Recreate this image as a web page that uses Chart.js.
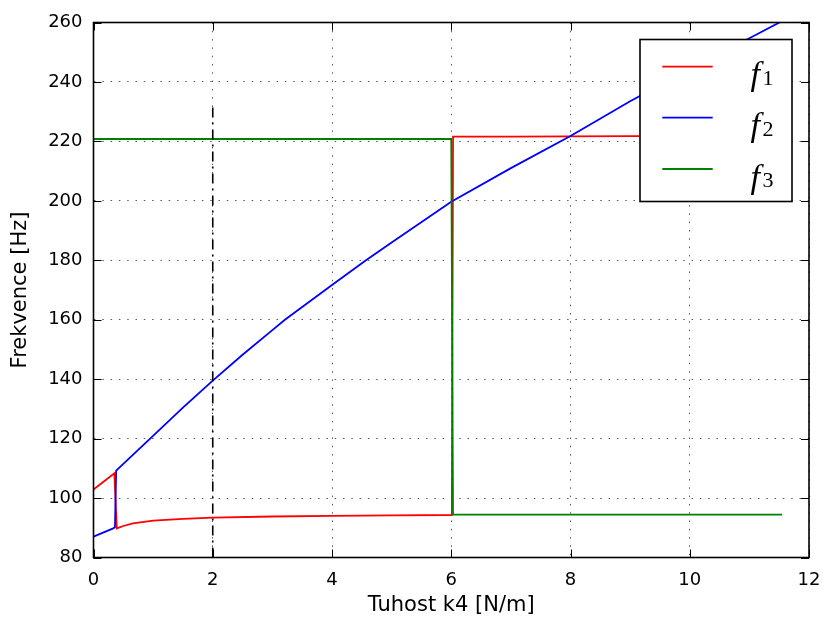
<!DOCTYPE html>
<html>
<head>
<meta charset="utf-8">
<script src="https://cdn.jsdelivr.net/npm/chart.js@4.4.1/dist/chart.umd.min.js"></script>
<style>
  html, body { margin: 0; padding: 0; background: #ffffff; }
  #wrap { width: 826px; height: 619px; }
</style>
</head>
<body>
<div id="wrap"><canvas id="c" width="826" height="619"></canvas></div>
<script>
// ---- data ----
const xTicks = [0, 2, 4, 6, 8, 10, 12];
const yTicks = [80, 100, 120, 140, 160, 180, 200, 220, 240, 260];
const seriesNames = ['f1', 'f2', 'f3'];

const f1K  = [0, 0.35, 0.39, 0.5, 0.66, 1.0, 1.5, 2.0, 3.0, 4.0, 5.0, 6.01, 6.03, 7.0, 8.0, 9.0, 10.0, 11.55];
const f1Hz = [102.9, 108.3, 89.8, 90.6, 91.5, 92.4, 93.0, 93.4, 93.8, 94.0, 94.2, 94.3, 221.6, 221.6, 221.7, 221.8, 221.8, 221.9];

const f2K  = [0, 0.33, 0.36, 0.38, 0.95, 1.5, 2.0, 2.5, 3.0, 3.21, 4.0, 4.57, 5.0, 6.0, 7.0, 8.0, 9.0, 10.0, 11.0, 11.55];
const f2Hz = [87.0, 89.8, 90.2, 109.2, 120.0, 130.4, 139.5, 148.2, 156.5, 160.0, 171.7, 180.0, 186.0, 199.7, 211.0, 221.8, 233.5, 244.3, 254.7, 260.5];

const f3K  = [0, 6.0, 6.03, 11.55];
const f3Hz = [220.8, 220.8, 94.4, 94.4];

const markK  = [2, 2];
const markHz = [80, 232];

const xTitle = 'Tuhost k4 [N/m]';
const yTitle = 'Frekvence [Hz]';

// ---- helpers ----
function pts(xs, ys) { return xs.map((x, i) => ({ x: x, y: ys[i] })); }

const seriesColors = ['#ff0000', '#0000ff', '#008000'];

const framePlugin = {
  id: 'frame',
  afterDatasetsDraw(chart) {
    const ctx = chart.ctx;
    const a = chart.chartArea;
    const xs = chart.scales.x, ys = chart.scales.y;
    const tl = 8;
    ctx.save();
    ctx.strokeStyle = '#000';
    ctx.lineWidth = 1;
    ctx.beginPath();
    xs.ticks.forEach(t => {
      const px = Math.round(xs.getPixelForValue(t.value)) + 0.5;
      ctx.moveTo(px, a.bottom); ctx.lineTo(px, a.bottom - tl);
      ctx.moveTo(px, a.top); ctx.lineTo(px, a.top + tl);
    });
    ys.ticks.forEach(t => {
      const py = Math.round(ys.getPixelForValue(t.value)) + 0.5;
      ctx.moveTo(a.left, py); ctx.lineTo(a.left + tl, py);
      ctx.moveTo(a.right, py); ctx.lineTo(a.right - tl, py);
    });
    ctx.stroke();
    ctx.lineWidth = 1.6;
    ctx.strokeRect(a.left, a.top, a.right - a.left, a.bottom - a.top);
    ctx.restore();
  }
};

const legendPlugin = {
  id: 'mplLegend',
  afterDraw(chart) {
    const ctx = chart.ctx;
    const bx = 640, by = 39.5, bw = 152, bh = 162;
    ctx.save();
    ctx.fillStyle = '#ffffff';
    ctx.fillRect(bx, by, bw, bh);
    ctx.strokeStyle = '#000';
    ctx.lineWidth = 1.6;
    ctx.strokeRect(bx, by, bw, bh);
    const rowY = [27.2, 78.2, 129.5];
    seriesNames.forEach((name, i) => {
      const ds = chart.data.datasets.find(d => d.label === name);
      const ly = by + rowY[i];
      ctx.strokeStyle = ds.borderColor;
      ctx.lineWidth = 1.8;
      ctx.beginPath();
      ctx.moveTo(bx + 22.3, ly);
      ctx.lineTo(bx + 72.7, ly);
      ctx.stroke();
      ctx.fillStyle = '#000';
      ctx.textBaseline = 'alphabetic';
      ctx.textAlign = 'left';
      ctx.font = 'italic 34px "Liberation Serif"';
      ctx.fillText(name.charAt(0), bx + 110.5, ly + 18.5);
      ctx.font = '22px "Liberation Serif"';
      ctx.fillText(name.slice(1), bx + 122.5, ly + 17.8);
    });
    ctx.restore();
  }
};

const cfg = {
  type: 'line',
  data: {
    datasets: [
      { label: 'marker', data: pts(markK, markHz), borderColor: '#000000', borderWidth: 1.6,
        borderDash: [10, 5, 2, 5], pointRadius: 0, order: 0 },
      { label: seriesNames[2], data: pts(f3K, f3Hz), borderColor: seriesColors[2], borderWidth: 1.8, pointRadius: 0, order: 1 },
      { label: seriesNames[1], data: pts(f2K, f2Hz), borderColor: seriesColors[1], borderWidth: 1.8, pointRadius: 0, order: 2 },
      { label: seriesNames[0], data: pts(f1K, f1Hz), borderColor: seriesColors[0], borderWidth: 1.8, pointRadius: 0, order: 3 }
    ]
  },
  options: {
    responsive: false,
    animation: false,
    devicePixelRatio: 1,
    layout: { padding: { top: 22.5, right: 17, left: 0, bottom: 0 } },
    plugins: { legend: { display: false }, tooltip: { enabled: false } },
    elements: { line: { tension: 0, fill: false } },
    scales: {
      x: {
        type: 'linear', min: 0, max: 12,
        afterBuildTicks(s) { s.ticks = xTicks.map(v => ({ value: v })); },
        afterFit(s) { s.height = 61.5; s.paddingLeft = 0; s.paddingRight = 0; },
        ticks: { color: '#000', font: { family: 'DejaVu Sans', size: 18 }, padding: 12, maxRotation: 0 },
        grid: { color: 'rgba(0,0,0,0.65)', lineWidth: 1, drawTicks: false },
        border: { display: false, dash: [1.5, 6.8] },
        title: { display: true, text: xTitle, color: '#000', font: { family: 'DejaVu Sans', size: 21 }, padding: { top: 0, bottom: 1 } }
      },
      y: {
        type: 'linear', min: 80, max: 260,
        afterBuildTicks(s) { s.ticks = yTicks.map(v => ({ value: v })); },
        afterFit(s) { s.width = 93.5; s.paddingTop = 0; s.paddingBottom = 0; },
        ticks: { color: '#000', font: { family: 'DejaVu Sans', size: 18 }, padding: 11 },
        grid: { color: 'rgba(0,0,0,0.65)', lineWidth: 1, drawTicks: false },
        border: { display: false, dash: [1.5, 6.8] },
        title: { display: true, text: yTitle, color: '#000', font: { family: 'DejaVu Sans', size: 21 }, padding: { top: 8, bottom: 0 } }
      }
    }
  },
  plugins: [framePlugin, legendPlugin]
};

new Chart(document.getElementById('c'), cfg);
</script>
</body>
</html>
